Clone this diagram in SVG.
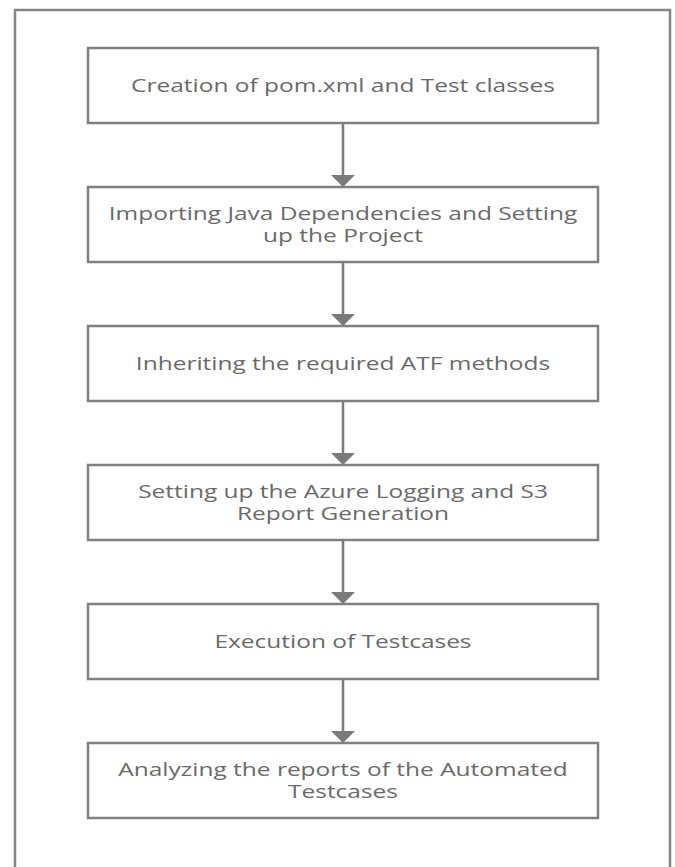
<svg xmlns="http://www.w3.org/2000/svg" width="675" height="867" viewBox="0 0 675 867">
<style>
.frame{fill:none;stroke:#858585;stroke-width:2.5}
.box{fill:#ffffff;stroke:#808080;stroke-width:2.5}
.lbl{font-family:"Open Sans","Noto Sans",sans-serif;font-size:18px;fill:#6a6a6a;text-anchor:middle}
.conn{stroke:#7a7a7a;stroke-width:2.5;fill:none}
.head{fill:#7a7a7a}
</style>
<rect width="675" height="867" fill="#ffffff"/>
<rect class="frame" x="15" y="10" width="655" height="880"/>
<g id="connectors">
<line class="conn" x1="343" y1="123" x2="343" y2="177"/><polygon class="head" points="331,175 355,175 343,187"/>
<line class="conn" x1="343" y1="262" x2="343" y2="316"/><polygon class="head" points="331,314 355,314 343,326"/>
<line class="conn" x1="343" y1="401" x2="343" y2="455"/><polygon class="head" points="331,453 355,453 343,465"/>
<line class="conn" x1="343" y1="540" x2="343" y2="594"/><polygon class="head" points="331,592 355,592 343,604"/>
<line class="conn" x1="343" y1="679" x2="343" y2="733"/><polygon class="head" points="331,731 355,731 343,743"/>
</g>
<g id="n1"><rect class="box" x="88" y="48" width="510" height="75"/>
<g transform="translate(343,0) scale(1.36,1)"><text class="lbl" x="0" y="92">Creation of pom.xml and Test classes</text></g></g>
<g id="n2"><rect class="box" x="88" y="187" width="510" height="75"/>
<g transform="translate(343,0) scale(1.36,1)"><text class="lbl" x="0" y="220">Importing Java Dependencies and Setting</text><text class="lbl" x="0" y="242">up the Project</text></g></g>
<g id="n3"><rect class="box" x="88" y="326" width="510" height="75"/>
<g transform="translate(343,0) scale(1.36,1)"><text class="lbl" x="0" y="370">Inheriting the required ATF methods</text></g></g>
<g id="n4"><rect class="box" x="88" y="465" width="510" height="75"/>
<g transform="translate(343,0) scale(1.36,1)"><text class="lbl" x="0" y="498">Setting up the Azure Logging and S3</text><text class="lbl" x="0" y="520">Report Generation</text></g></g>
<g id="n5"><rect class="box" x="88" y="604" width="510" height="75"/>
<g transform="translate(343,0) scale(1.36,1)"><text class="lbl" x="0" y="648">Execution of Testcases</text></g></g>
<g id="n6"><rect class="box" x="88" y="743" width="510" height="75"/>
<g transform="translate(343,0) scale(1.36,1)"><text class="lbl" x="0" y="776">Analyzing the reports of the Automated</text><text class="lbl" x="0" y="798">Testcases</text></g></g>
</svg>
